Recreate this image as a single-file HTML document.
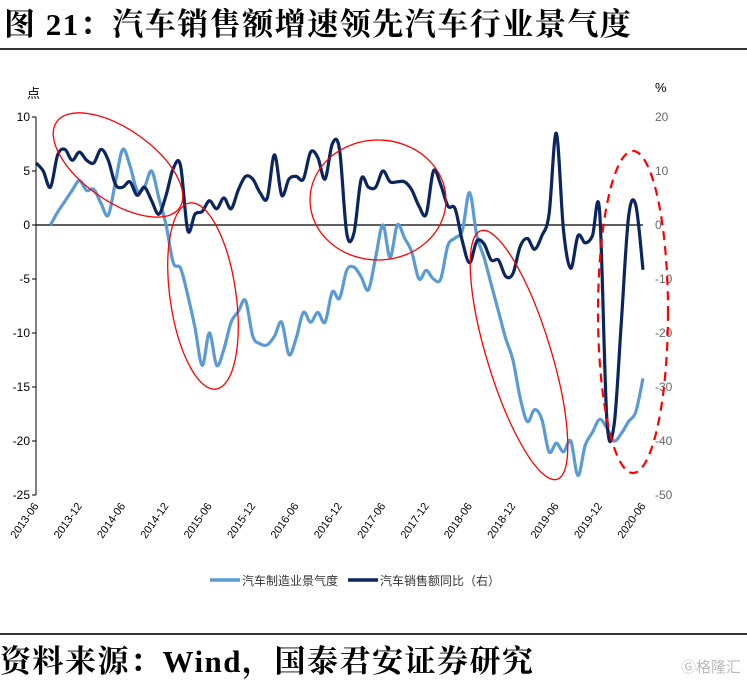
<!DOCTYPE html>
<html><head><meta charset="utf-8"><style>
body{margin:0;background:#fff;width:747px;height:684px;overflow:hidden;position:relative;font-family:"Liberation Sans","Noto Sans CJK SC",sans-serif}
.title{position:absolute;left:4px;top:-1px;font-family:"Liberation Serif","Noto Serif CJK SC",serif;font-weight:bold;font-size:31px;color:#000;letter-spacing:1.5px;white-space:nowrap}
.footer{position:absolute;left:0px;top:636px;font-family:"Liberation Serif","Noto Serif CJK SC",serif;font-weight:bold;font-size:31px;color:#000;letter-spacing:1.5px;white-space:nowrap}
.wm{position:absolute;right:6px;top:656px;font-size:15px;color:#bbb}
</style></head><body>
<div class="title">图 21：汽车销售额增速领先汽车行业景气度</div>
<div style="position:absolute;left:0;top:48px;width:747px;height:1.5px;background:#333"></div>
<svg id="chart" width="747" height="684" style="position:absolute;left:0;top:0"></svg>
<div style="position:absolute;left:0;top:633px;width:747px;height:1.5px;background:#333"></div>
<div class="footer">资料来源：Wind，国泰君安证券研究</div>
<div class="wm">Ⓖ格隆汇</div>
<script>
const tickLabels=["2013-06","2013-12","2014-06","2014-12","2015-06","2015-12","2016-06","2016-12","2017-06","2017-12","2018-06","2018-12","2019-06","2019-12","2020-06"];
const leftTicks=[10,5,0,-5,-10,-15,-20,-25];
const rightTicks=[20,10,0,-10,-20,-30,-40,-50];
const industry=[null,null,0,1.2,2.2,3.2,4.1,3.2,3.3,2,0.9,4,7,5.5,3.2,3.5,5,2.5,0,-3.5,-4,-6.5,-9.5,-13,-10,-13,-11.5,-9,-8,-7,-10.3,-11,-11.1,-10.3,-9,-12,-10.5,-8.1,-9,-8.1,-9,-6.2,-6.8,-4.2,-3.9,-4.8,-6,-3,0,-3,0,-1.2,-2.5,-5,-4.2,-5,-5,-1.9,-1.2,-0.5,3,-1,-3,-5.5,-8,-10.5,-12.5,-16,-18.2,-17.1,-18,-21,-20.2,-21,-20,-23.2,-20.4,-19.2,-18,-18.8,-20,-19.3,-18.2,-17.3,-14.2];
const sales=[11.5,10,7,13,14,12,13.5,12,11.5,14,12,7.5,7,8,5.5,7,4.5,2,5.5,10.5,11,-1,2,2.5,4.5,3,5,3,6.5,9,8.5,6,5,13,5.5,8.5,9,8.5,13.5,12.5,8.5,15,14,-1.5,-1.5,8.5,7,7,10,8,8,8,6.5,3.5,2,10,7.5,3.5,3,-3,-7,-3,-3.5,-6.5,-6.5,-9.5,-9,-4,-2.5,-4.5,-2,2,17,-1,-8,-2,-3.3,-2,2.5,-36,-37,-18,1.5,3.7,-8.3];
const NS="http://www.w3.org/2000/svg";
const svg=document.getElementById('chart');
const X0=36,X1=643;
const xS=i=>X0+(X1-X0)*i/(sales.length-1);
const yL=v=>225-v*10.8;
const yR=v=>225-v*5.4;
function mk(t,a){const e=document.createElementNS(NS,t);for(const k in a)e.setAttribute(k,a[k]);svg.appendChild(e);return e;}
function smooth(pts){let d=`M${pts[0][0]},${pts[0][1]}`;for(let i=0;i<pts.length-1;i++){const p0=pts[i-1]||pts[i],p1=pts[i],p2=pts[i+1],p3=pts[i+2]||p2;const c1=[p1[0]+(p2[0]-p0[0])/6,p1[1]+(p2[1]-p0[1])/6],c2=[p2[0]-(p3[0]-p1[0])/6,p2[1]-(p3[1]-p1[1])/6];d+=`C${c1[0]},${c1[1]} ${c2[0]},${c2[1]} ${p2[0]},${p2[1]}`;}return d;}
let e=mk('line',{x1:X0,y1:117,x2:X0,y2:495,stroke:'#000','stroke-width':1});

leftTicks.forEach(v=>{
 let t=mk('line',{x1:X0-4,y1:yL(v),x2:X0,y2:yL(v),stroke:'#000'});
 
 let l=mk('text',{x:X0-6,y:yL(v)+4,'text-anchor':'end','font-size':12,fill:'#000'});l.textContent=v;
 
});
rightTicks.forEach(v=>{
 let l=mk('text',{x:655,y:yR(v)+4,'font-size':12,fill:'#666'});l.textContent=v;
 
});
let u=mk('text',{x:27,y:98,'font-size':13,fill:'#000'});u.textContent='点';

u=mk('text',{x:655,y:92,'font-size':13,fill:'#000'});u.textContent='%';

tickLabels.forEach((s,k)=>{
 const x=xS(k*6)+3,y=506;
 let l=mk('text',{x:x,y:y,'text-anchor':'end','font-size':11,fill:'#000',transform:`rotate(-55 ${x} ${y})`});l.textContent=s;
 
});
e=mk('line',{x1:X0,y1:225,x2:X1,y2:225,stroke:'#000','stroke-width':1.2});

const ip=[];industry.forEach((v,i)=>{if(v!==null)ip.push([xS(i),yL(v)]);});
e=mk('path',{d:smooth(ip),fill:'none',stroke:'#5B9BD5','stroke-width':3.2,'stroke-linejoin':'round'});

const sp=sales.map((v,i)=>[xS(i),yR(v)]);
e=mk('path',{d:smooth(sp),fill:'none',stroke:'#0B2561','stroke-width':3.2,'stroke-linejoin':'round'});

e=mk('ellipse',{cx:118,cy:165,rx:75,ry:36,transform:'rotate(35 118 165)',fill:'none',stroke:'red','stroke-width':1.3});

e=mk('ellipse',{cx:203,cy:296,rx:33,ry:94,transform:'rotate(-8 203 296)',fill:'none',stroke:'red','stroke-width':1.3});

e=mk('ellipse',{cx:378,cy:200,rx:68,ry:60,fill:'none',stroke:'red','stroke-width':1.3});

e=mk('ellipse',{cx:519,cy:355,rx:32,ry:130,transform:'rotate(-17 519 355)',fill:'none',stroke:'red','stroke-width':1.3});

e=mk('ellipse',{cx:633,cy:312,rx:35,ry:161,fill:'none',stroke:'red','stroke-width':2.2,'stroke-dasharray':'9 6'});

e=mk('line',{x1:210,y1:580,x2:240,y2:580,stroke:'#5B9BD5','stroke-width':3.5});

let t=mk('text',{x:242,y:585,'font-size':12,fill:'#333'});t.textContent='汽车制造业景气度';

e=mk('line',{x1:348,y1:580,x2:378,y2:580,stroke:'#0B2561','stroke-width':3.5});

t=mk('text',{x:380,y:585,'font-size':12,fill:'#333'});t.textContent='汽车销售额同比（右）';

</script>
</body></html>
